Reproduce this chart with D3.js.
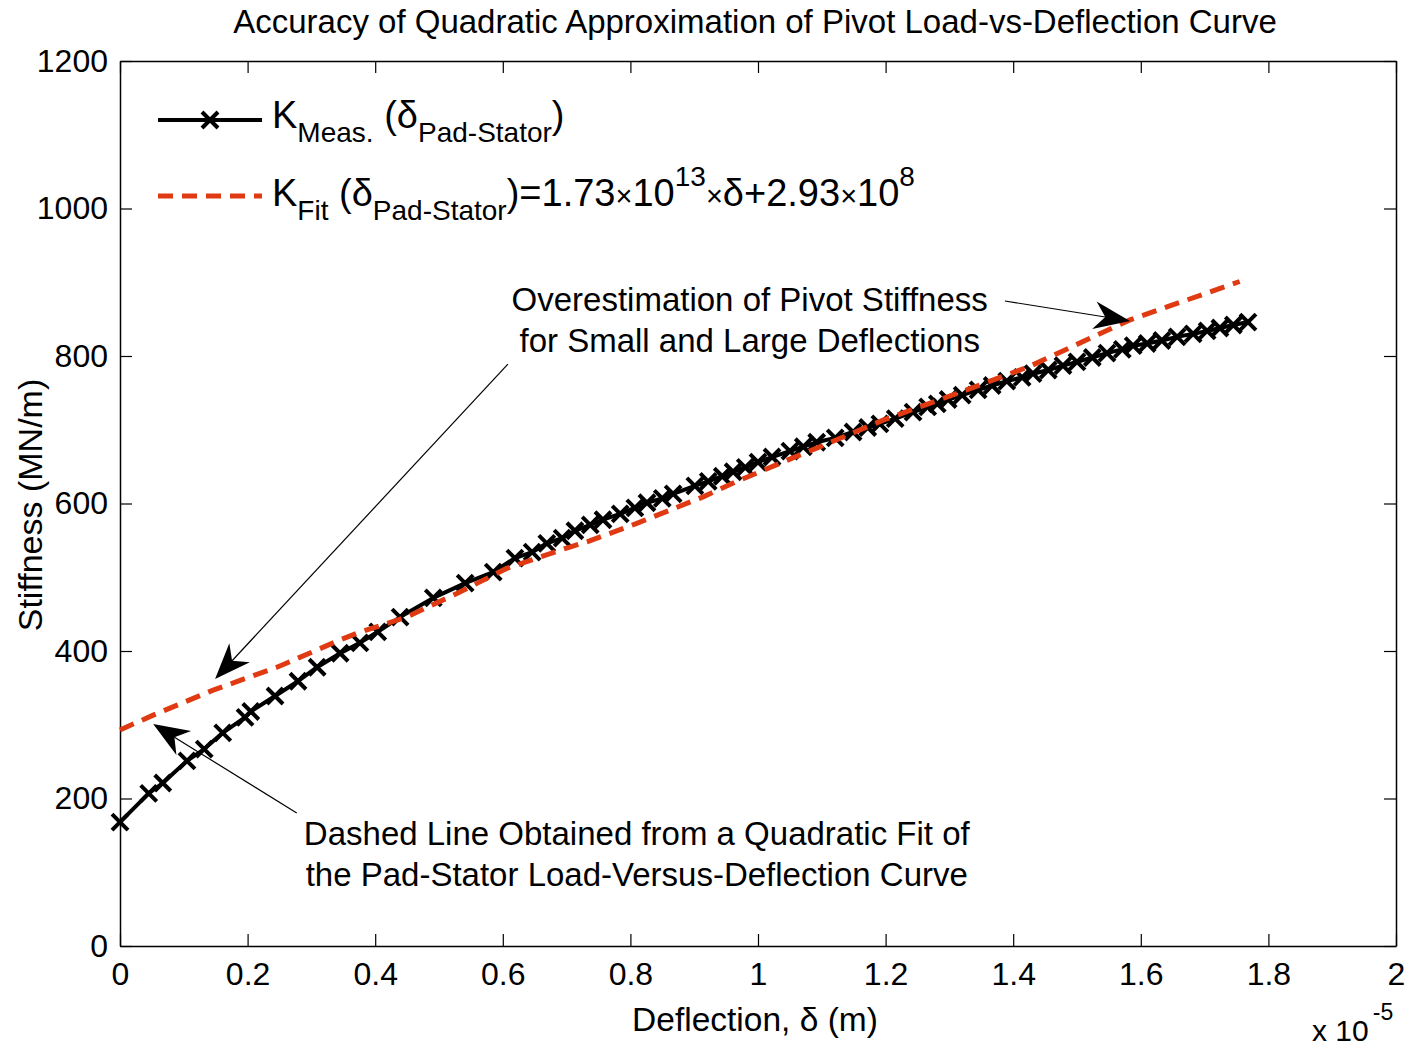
<!DOCTYPE html>
<html>
<head>
<meta charset="utf-8">
<script src="https://cdn.jsdelivr.net/npm/d3@7"></script>
<style>
  html, body { margin: 0; padding: 0; background: #fff; }
  svg { display: block; }
  text { font-family: "Liberation Sans", Arial, sans-serif; fill: #000; }
</style>
</head>
<body>
<script>
// Deflection in units of 1e-5 m, stiffness in MN/m
const measDeflection = [
  0.000, 0.045, 0.067, 0.105, 0.132, 0.161, 0.196, 0.205, 0.243, 0.279,
  0.309, 0.345, 0.376, 0.404, 0.439, 0.491, 0.541, 0.585, 0.619, 0.646,
  0.669, 0.693, 0.713, 0.737, 0.757, 0.784, 0.807, 0.826, 0.850, 0.867,
  0.901, 0.922, 0.944, 0.961, 0.980, 1.000, 1.022, 1.050, 1.071, 1.092,
  1.121, 1.149, 1.172, 1.191, 1.215, 1.243, 1.266, 1.281, 1.298, 1.320,
  1.345, 1.367, 1.390, 1.414, 1.431, 1.455, 1.478, 1.500, 1.524, 1.547,
  1.571, 1.588, 1.610, 1.633, 1.657, 1.682, 1.704, 1.724, 1.745, 1.768
];
const measStiffness = [
  168, 207, 221, 251, 267, 289, 310, 318, 339, 359,
  378, 397, 411, 426, 446, 472, 492, 507, 526, 534,
  546, 553, 563, 571, 578, 586, 594, 601, 607, 613,
  624, 630, 637, 643, 649, 656, 663, 671, 677, 683,
  689, 697, 703, 708, 715, 724, 731, 735, 741, 747,
  754, 760, 766, 771, 776, 781, 787, 792, 798, 804,
  809, 814, 817, 821, 826, 830, 834, 838, 842, 846
];
const fitDeflection = [
  0.000, 0.052, 0.146, 0.246, 0.345, 0.371, 0.449, 0.528, 0.606, 0.705,
  0.732, 0.810, 0.914, 0.967, 1.066, 1.092, 1.196, 1.327, 1.426, 1.453,
  1.583, 1.755
];
const fitStiffness = [
  293, 313, 347, 378, 415, 424, 446, 478, 512, 541,
  548, 573, 609, 630, 666, 675, 713, 754, 786, 797,
  849, 901
];
const xTicks = [0, 0.2, 0.4, 0.6, 0.8, 1, 1.2, 1.4, 1.6, 1.8, 2];
const yTicks = [0, 200, 400, 600, 800, 1000, 1200];

const W = 1406, H = 1049;
const plot = { left: 120, right: 1396, top: 61, bottom: 946 };

const svg = d3.select("body").append("svg")
  .attr("width", W).attr("height", H);

const x = d3.scaleLinear().domain([0, 2]).range([plot.left, plot.right]);
const y = d3.scaleLinear().domain([0, 1200]).range([plot.bottom, plot.top]);

// Axes box with inward ticks on all four sides
const tickLen = 12;
const fmt = d => String(d);

const axisBottom = d3.axisBottom(x).tickValues(xTicks).tickFormat(fmt)
  .tickSizeInner(-tickLen).tickSizeOuter(0).tickPadding(16);
const axisTop = d3.axisTop(x).tickValues(xTicks).tickFormat("")
  .tickSizeInner(-tickLen).tickSizeOuter(0);
const axisLeft = d3.axisLeft(y).tickValues(yTicks).tickFormat(fmt)
  .tickSizeInner(-tickLen).tickSizeOuter(0).tickPadding(12);
const axisRight = d3.axisRight(y).tickValues(yTicks).tickFormat("")
  .tickSizeInner(-tickLen).tickSizeOuter(0);

function styleAxis(g) {
  g.select(".domain").attr("stroke", "#000").attr("stroke-width", 1.5);
  g.selectAll(".tick line").attr("stroke", "#000").attr("stroke-width", 1.2);
  g.selectAll(".tick text")
    .attr("font-size", 32)
    .attr("font-family", "'Liberation Sans', Arial, sans-serif")
    .attr("fill", "#000");
}

svg.append("g").attr("transform", `translate(0,${plot.bottom})`).call(axisBottom).call(styleAxis);
svg.append("g").attr("transform", `translate(0,${plot.top})`).call(axisTop).call(styleAxis);
svg.append("g").attr("transform", `translate(${plot.left},0)`).call(axisLeft).call(styleAxis);
svg.append("g").attr("transform", `translate(${plot.right},0)`).call(axisRight).call(styleAxis);

// Title and axis labels
svg.append("text")
  .attr("x", 755).attr("y", 33)
  .attr("text-anchor", "middle").attr("font-size", 33)
  .text("Accuracy of Quadratic Approximation of Pivot Load-vs-Deflection Curve");

svg.append("text")
  .attr("x", 755).attr("y", 1031)
  .attr("text-anchor", "middle").attr("font-size", 33.5)
  .text("Deflection, δ (m)");

const expo = svg.append("text").attr("x", 1312).attr("y", 1041).attr("font-size", 30);
expo.append("tspan").text("x 10");
expo.append("tspan").attr("dx", 4).attr("dy", -21).attr("font-size", 23).text("-5");

svg.append("text")
  .attr("transform", `translate(42,505) rotate(-90)`)
  .attr("text-anchor", "middle").attr("font-size", 34)
  .text("Stiffness (MN/m)");

// Measured stiffness: solid black line with x markers
const line = d3.line().x(d => x(d[0])).y(d => y(d[1]));
const meas = measDeflection.map((d, i) => [d, measStiffness[i]]);
const fit = fitDeflection.map((d, i) => [d, fitStiffness[i]]);

svg.append("path").datum(meas)
  .attr("d", line).attr("fill", "none")
  .attr("stroke", "#000").attr("stroke-width", 4).attr("stroke-linejoin", "round");

const markerSize = 8;
const xMarker = `M${-markerSize},${-markerSize}L${markerSize},${markerSize}M${-markerSize},${markerSize}L${markerSize},${-markerSize}`;
svg.append("g").selectAll("path").data(meas).join("path")
  .attr("transform", d => `translate(${x(d[0])},${y(d[1])})`)
  .attr("d", xMarker).attr("stroke", "#000").attr("stroke-width", 4).attr("fill", "none");

// Fitted stiffness: dashed red line
svg.append("path").datum(fit)
  .attr("d", line).attr("fill", "none")
  .attr("stroke", "#e03a12").attr("stroke-width", 5)
  .attr("stroke-dasharray", "15,9");

// Annotation arrows (anchored in data coordinates)
function arrow(x0, y0, x1, y1) {
  const ax = x(x0), ay = y(y0), bx = x(x1), by = y(y1);
  const dx = bx - ax, dy = by - ay, len = Math.hypot(dx, dy);
  const ux = dx / len, uy = dy / len, px = -uy, py = ux;
  const headLen = 36, headHalf = 14, notch = 25;
  const g = svg.append("g");
  g.append("line")
    .attr("x1", ax).attr("y1", ay)
    .attr("x2", bx - ux * notch).attr("y2", by - uy * notch)
    .attr("stroke", "#000").attr("stroke-width", 1.2);
  const pts = [
    [bx, by],
    [bx - ux * headLen + px * headHalf, by - uy * headLen + py * headHalf],
    [bx - ux * notch, by - uy * notch],
    [bx - ux * headLen - px * headHalf, by - uy * headLen - py * headHalf]
  ];
  g.append("path").attr("d", "M" + pts.map(p => p.join(",")).join("L") + "Z")
    .attr("fill", "#000");
}
arrow(1.387, 874.6, 1.583, 847.5);
arrow(0.608, 789, 0.149, 362);
arrow(0.277, 180.3, 0.052, 301);

function note(cx, cy, lines, gap) {
  const t = svg.append("text").attr("text-anchor", "middle").attr("font-size", 33);
  lines.forEach((s, i) => {
    t.append("tspan").attr("x", x(cx)).attr("y", y(cy) + i * gap).text(s);
  });
}
note(0.987, 861, ["Overestimation of Pivot Stiffness", "for Small and Large Deflections"], 41);
note(0.810, 137, ["Dashed Line Obtained from a Quadratic Fit of", "the Pad-Stator Load-Versus-Deflection Curve"], 41);

// Legend
const leg = svg.append("g").attr("transform", `translate(${plot.left},${plot.top})`);
leg.append("line").attr("x1", 38).attr("x2", 142).attr("y1", 59).attr("y2", 59)
  .attr("stroke", "#000").attr("stroke-width", 4);
leg.append("path").attr("transform", "translate(90,59)").attr("d", xMarker)
  .attr("stroke", "#000").attr("stroke-width", 4);
leg.append("line").attr("x1", 38).attr("x2", 142).attr("y1", 135).attr("y2", 135)
  .attr("stroke", "#e03a12").attr("stroke-width", 5).attr("stroke-dasharray", "15,9");

const big = 38, sub = 28;
const l1 = leg.append("text").attr("x", 152).attr("y", 67).attr("font-size", big);
l1.append("tspan").text("K");
l1.append("tspan").attr("font-size", sub).attr("dy", 14).text("Meas.");
l1.append("tspan").attr("dy", -14).text(" (δ");
l1.append("tspan").attr("font-size", sub).attr("dy", 14).text("Pad-Stator");
l1.append("tspan").attr("dy", -14).text(")");

const l2 = leg.append("text").attr("x", 152).attr("y", 145).attr("font-size", big);
l2.append("tspan").text("K");
l2.append("tspan").attr("font-size", sub).attr("dy", 14).text("Fit");
l2.append("tspan").attr("dy", -14).text(" (δ");
l2.append("tspan").attr("font-size", sub).attr("dy", 14).text("Pad-Stator");
l2.append("tspan").attr("dy", -14).text(")=1.73");
l2.append("tspan").attr("font-size", 29).text("×");
l2.append("tspan").text("10");
l2.append("tspan").attr("font-size", sub).attr("dy", -20).text("13");
l2.append("tspan").attr("font-size", 29).attr("dy", 20).text("×");
l2.append("tspan").text("δ+2.93");
l2.append("tspan").attr("font-size", 29).text("×");
l2.append("tspan").text("10");
l2.append("tspan").attr("font-size", sub).attr("dy", -20).text("8");
</script>
</body>
</html>
